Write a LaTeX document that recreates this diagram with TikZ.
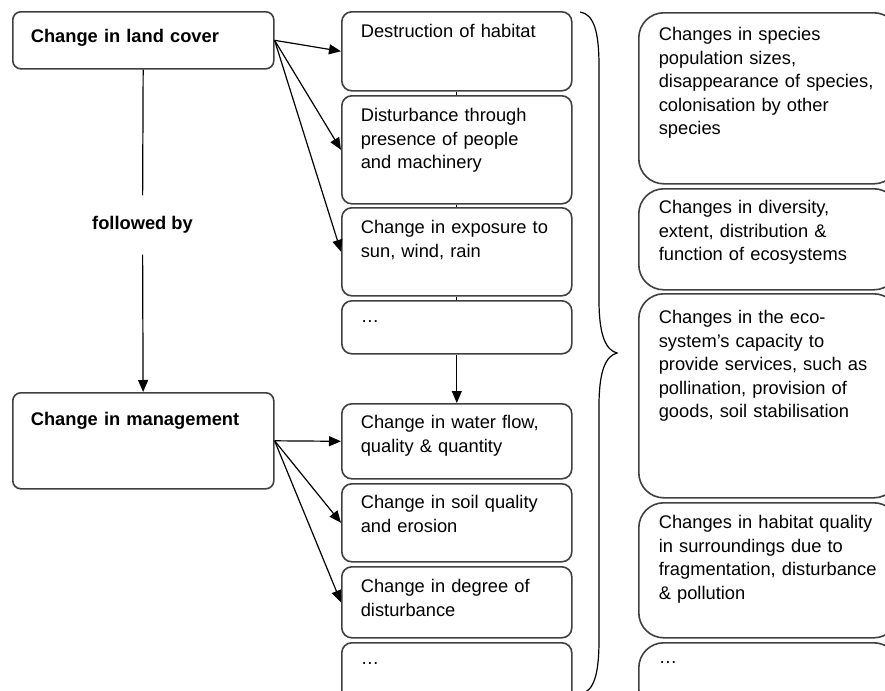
\documentclass[tikz,border=0pt]{standalone}
\usepackage{fontspec}
\setmainfont{Liberation Sans}
\usetikzlibrary{arrows.meta}
\tikzset{>={Triangle[length=6pt,width=5pt]}}

\begin{document}
\begin{tikzpicture}[x=0.5pt, y=-0.5pt, line width=0.6pt,
  every node/.style={font=\fontsize{9.15pt}{11.7pt}\selectfont},
  cause/.style={draw=black!75, line width=0.8pt, rounded corners=4pt, anchor=north west,
    align=left, font=\fontsize{9.15pt}{11.7pt}\selectfont\bfseries,
    inner xsep=9pt, inner ysep=0pt, text width=112.5pt},
  effect/.style={draw=black!75, line width=0.8pt, rounded corners=5pt, anchor=north west,
    align=left, inner xsep=9.5pt, inner ysep=0pt, text width=96pt, text height=13pt},
  impact/.style={draw=black!75, line width=0.8pt, rounded corners=12.5pt, anchor=north west,
    align=left, inner xsep=10pt, inner ysep=0pt, text width=110pt},
]
\useasboundingbox (0,0) rectangle (885,691);
\clip (0,0) rectangle (885,691);

% Causes
\node[cause, text height=15.5pt, text depth=13pt] (land) at (12,11) {Change in land cover};
\node[cause, text height=16.5pt, text depth=31.5pt] (mgmt) at (12,392) {Change in management};
\node[font=\fontsize{9.15pt}{11.7pt}\selectfont\bfseries, minimum height=29pt, inner ysep=0pt]
  (follow) at (142.5,225) {followed by};

% Direct effects
\node[effect, text depth=26.5pt] (habitat) at (341,11) {Destruction of habitat};
\node[effect, text depth=41pt] (people) at (341,95) {Disturbance through\\presence of people\\and machinery};
\node[effect, text depth=31pt] (expose) at (341,207) {Change in exposure to\\sun, wind, rain};
\node[effect, text height=11pt, text depth=15.5pt] (moreA) at (341,300) {\ldots};
\node[effect, text height=12.5pt, text depth=25pt] (water) at (341,403) {Change in water flow,\\quality \& quantity};
\node[effect, text height=12.5pt, text depth=26.5pt] (soil) at (341,483) {Change in soil quality\\and erosion};
\node[effect, text depth=22.5pt] (degree) at (341,566) {Change in degree of\\disturbance};
\node[effect, text height=11pt, text depth=24pt] (moreB) at (341,642) {\ldots};

% Impacts on biodiversity
\node[impact, text height=14pt, text depth=71.5pt] (species) at (638,12)
  {Changes in species\\population sizes,\\disappearance of species,\\colonisation by other\\species};
\node[impact, text height=12.5pt, text depth=38pt] (eco) at (638,188)
  {Changes in diversity,\\extent, distribution \&\\function of ecosystems};
\node[impact, text height=15pt, text depth=87pt] (service) at (638,293)
  {Changes in the eco-\\system’s capacity to\\provide services, such as\\pollination, provision of\\goods, soil stabilisation};
\node[impact, text height=13pt, text depth=54.5pt] (surround) at (638,502)
  {Changes in habitat quality\\in surroundings due to\\fragmentation, disturbance\\\& pollution};
\node[impact, text height=10.5pt, text depth=25pt] (moreC) at (638,642) {\ldots};

% Arrows
\foreach \t in {habitat, people, expose}
  \draw[->] (land.east) -- (\t.west);
\foreach \t in {water, soil, degree}
  \draw[->] (mgmt.east) -- (\t.west);
\draw (land) -- (follow);
\draw[->] (follow) -- (mgmt);
\draw (habitat) -- (people);
\draw (people) -- (expose);
\draw (expose) -- (moreA);
\draw[->] (moreA) -- (water);

% Brace
\draw (580,12) .. controls (594,14) and (599,32) .. (599,66) -- (599,300)
  .. controls (599,336) and (606,350) .. (617,353)
  .. controls (606,356) and (599,370) .. (599,406) -- (599,640)
  .. controls (599,674) and (594,692) .. (580,694);

\end{tikzpicture}
\end{document}
